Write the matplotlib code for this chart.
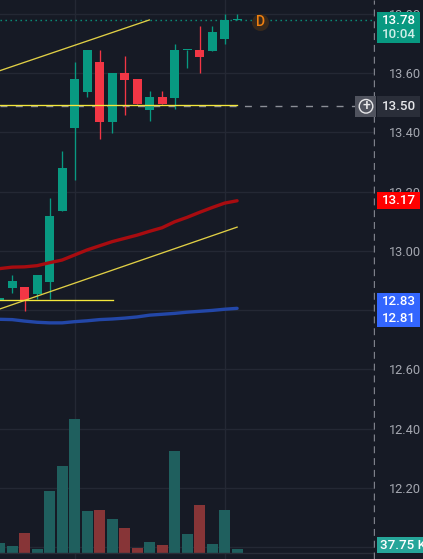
import matplotlib
matplotlib.use("Agg")
import matplotlib.pyplot as plt
from matplotlib.patches import Rectangle, Ellipse

W, H = 423, 559
BG = "#161a25"

idx = list(range(20))
opens  = [12.835,12.876,12.878,12.855,12.896,13.134,13.414,13.537,13.637,13.436,13.600,13.580,13.476,13.519,13.517,13.676,13.678,13.674,13.715,13.778]
closes = [12.840,12.898,12.834,12.918,13.118,13.279,13.580,13.678,13.436,13.600,13.577,13.496,13.519,13.496,13.678,13.678,13.654,13.738,13.779,13.780]
highs  = [12.840,12.918,12.878,12.918,13.178,13.337,13.637,13.678,13.678,13.600,13.657,13.580,13.539,13.539,13.698,13.678,13.759,13.759,13.799,13.799]
lows   = [12.835,12.859,12.798,12.839,12.839,13.134,13.239,13.520,13.378,13.399,13.458,13.496,13.439,13.496,13.480,13.618,13.601,13.674,13.698,13.778]
volume_k = [90,64,177,38,543,761,1170,369,378,299,221,46,99,73,891,168,421,81,378,37.75]
vol_up = [True,True,False,True,True,True,True,True,False,True,False,False,True,False,True,True,False,True,True,True]
ema_red = [12.940,12.945,12.946,12.950,12.960,12.969,12.986,13.003,13.017,13.031,13.042,13.053,13.066,13.078,13.098,13.113,13.130,13.146,13.161,13.169]
ema_blue = [12.769,12.768,12.763,12.759,12.757,12.757,12.761,12.764,12.768,12.770,12.773,12.777,12.783,12.786,12.789,12.793,12.796,12.799,12.803,12.806]
trend_upper_x, trend_upper_y = [0.03, 11.98], [13.608, 13.779]
trend_lower_x, trend_lower_y = [0.03, 19.0], [12.804, 13.080]
hline_low_x, hline_low_y = [0.03, 9.05], [12.833, 12.833]
hline_mid_x, hline_mid_y = [0.03, 19.0], [13.491, 13.491]
last_price = 13.78
order_price = 13.488
tick_prices = [13.8, 13.6, 13.4, 13.2, 13.0, 12.8, 12.6, 12.4, 12.2, 12.0]
tick_labels = ["13.80", "13.60", "13.40", "13.20", "13.00", "", "12.60", "12.40", "12.20", ""]
vgrid = [6, 18]

plt.rcParams["font.family"] = ["Roboto", "DejaVu Sans"]
fig = plt.figure(figsize=(W / 100, H / 100), dpi=100, facecolor=BG)
ax = fig.add_axes([0, 0, 375 / W, 1], facecolor=BG)
ax.set_xlim(0.032, 30.032)
ax.set_ylim(11.9603, 13.8463)
for s in ax.spines.values():
    s.set_visible(False)

# volume on its own scale
vax = ax.twinx()
vax.set_ylim(-49.6, 4820)
vax.set_yticks([])
for s in vax.spines.values():
    s.set_visible(False)
vax.patch.set_visible(False)
vax.bar(idx, volume_k, width=0.88, color=["#1f5f5e" if u else "#873537" for u in vol_up], zorder=1)
vax.axhline(0, color="#2a2e39", lw=1, zorder=2)

ax.yaxis.tick_right()
ax.set_yticks(tick_prices, tick_labels)
ax.tick_params(axis="y", length=0, pad=10, labelsize=9.2, labelcolor="#a4a7b0")
ax.set_xticks([])
for p in tick_prices:
    ax.axhline(p, color="#242834", lw=1, zorder=0)
for v in vgrid:
    ax.axvline(v, color="#242834", lw=1, zorder=0)

ax.set_zorder(vax.get_zorder() - 1)
ax.patch.set_visible(True)

# overlay for price marks above volume
pax = fig.add_axes(ax.get_position(), sharex=ax, sharey=ax, frameon=False)
pax.set_zorder(vax.get_zorder() + 1)
pax.tick_params(left=False, labelleft=False, bottom=False, labelbottom=False)

# last price and order lines
pax.axhline(last_price, color="#089981", lw=1, ls=(0, (1, 2.6)), zorder=3)
pax.plot([0.03, 28.4], [order_price] * 2, color="#8b8e96", lw=1, ls=(0, (5, 6)), zorder=3)

# candles
for i, o, c, h, l in zip(idx, opens, closes, highs, lows):
    col = "#089981" if c >= o else "#f23645"
    pax.plot([i, i], [l, h], color=col, lw=0.95, zorder=4, solid_capstyle="butt")
    pax.bar(i, max(abs(c - o), 0.005), bottom=min(o, c), width=0.72, color=col, zorder=5)

# indicators and drawings
pax.plot(idx, ema_red, color="#a80c10", lw=2.4, zorder=6, solid_capstyle="round")
pax.plot(idx, ema_blue, color="#2347a8", lw=2.4, zorder=6, solid_capstyle="round")
pax.plot(trend_upper_x, trend_upper_y, color="#e0cf45", lw=0.95, zorder=7)
pax.plot(trend_lower_x, trend_lower_y, color="#e0cf45", lw=0.95, zorder=7)
pax.plot(hline_low_x, hline_low_y, color="#f5e83c", lw=0.95, zorder=7)
pax.plot(hline_mid_x, hline_mid_y, color="#f5e83c", lw=0.95, zorder=7)

# pane separator
pax.axvline(29.96, color="#7d808a", lw=1, ls=(0, (5, 3.5)), zorder=8)

def px(x0, y0, x1, y1, color, z=20):
    fig.add_artist(Rectangle((x0 / W, 1 - y1 / H), (x1 - x0) / W, (y1 - y0) / H,
                             transform=fig.transFigure, facecolor=color, edgecolor="none", zorder=z))

def label(x, y, s, color="white", size=9.6, weight="medium", ha="center", z=21):
    fig.text(x / W, 1 - y / H, s, color=color, fontsize=size, fontweight=weight,
             ha=ha, va="center", zorder=z)

def circle(x, y, r, z, **kw):
    fig.add_artist(Ellipse((x / W, 1 - y / H), 2 * r / W, 2 * r / H,
                           transform=fig.transFigure, zorder=z, **kw))

px(377, 12, 420, 42.7, "#089981")
label(398.5, 20.5, "13.78")
label(398.5, 34.5, "10:04", color="#cfeee8")
px(377, 96, 420, 116.7, "#2a2e39")
label(398.5, 106.5, "13.50", color="#e6e7ea")
px(355, 96, 376, 116.7, "#50535e")
circle(366, 106.3, 6.8, 21, fill=False, edgecolor="#e8e8ea", lw=1.0)
label(366, 105.6, "+", color="#e8e8ea", size=10)
px(377, 192, 420, 209, "#ff0000")
label(398.5, 200.8, "13.17")
px(377, 293, 420, 326.7, "#3366ff")
label(398.5, 301.7, "12.83")
label(398.5, 319, "12.81")
px(377, 537, 423, 553.3, "#26a69a")
label(379.5, 545.3, "37.75 K", ha="left")

# dividend marker
circle(260.5, 22.5, 8.5, 19, facecolor="#38291c", edgecolor="none")
label(260.5, 22.5, "D", color="#f08010", size=10, z=21)

fig.savefig("out.png", dpi=100, facecolor=BG)
